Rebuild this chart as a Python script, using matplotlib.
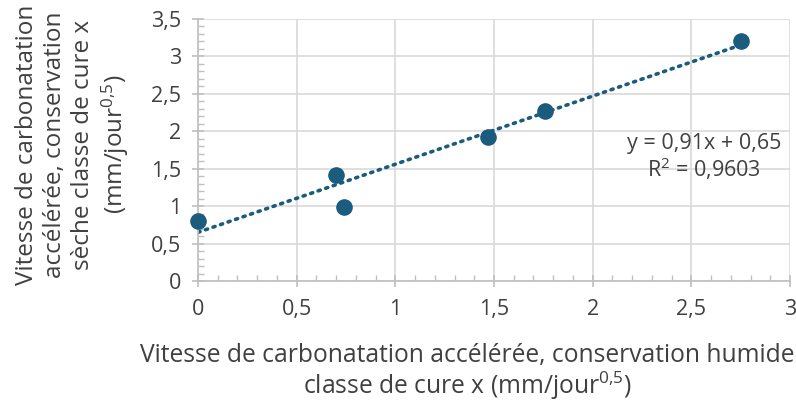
import numpy as np
import matplotlib.pyplot as plt
from matplotlib.ticker import MultipleLocator, FuncFormatter

plt.rcParams['font.family'] = ['Open Sans', 'DejaVu Sans']
plt.rcParams['mathtext.fontset'] = 'custom'
plt.rcParams['mathtext.rm'] = 'Open Sans'
plt.rcParams['mathtext.it'] = 'Open Sans'

# données
humide = [0.0, 0.70, 0.74, 1.47, 1.76, 2.75]
seche = [0.80, 1.41, 0.99, 1.92, 2.27, 3.21]

# droite de tendance (équation affichée)
pente = 0.91
ordonnee = 0.65

couleur = '#1b5b7e'
gris = '#404040'

fig = plt.figure(figsize=(7.96, 4.03), dpi=100)
ax = fig.add_axes([198 / 796, 1 - 281 / 403, 592 / 796, 262 / 403])

xt = np.linspace(min(humide), max(humide), 50)
ax.plot(xt, pente * xt + ordonnee, linestyle=(0, (0.6, 1.6)), color=couleur,
        linewidth=2.6, dash_capstyle='round', zorder=2)
ax.scatter(humide, seche, s=120, color=couleur, zorder=3, clip_on=False)

ax.set_xlim(0, 3)
ax.set_ylim(0, 3.5)
ax.xaxis.set_major_locator(MultipleLocator(0.5))
ax.yaxis.set_major_locator(MultipleLocator(0.5))
ax.xaxis.set_minor_locator(MultipleLocator(0.1))
ax.yaxis.set_minor_locator(MultipleLocator(0.1))

virgule = FuncFormatter(lambda v, p: ('%g' % v).replace('.', ','))
ax.xaxis.set_major_formatter(virgule)
ax.yaxis.set_major_formatter(virgule)

ax.grid(True, which='major', color='#d9d9d9', linewidth=1.2)
ax.set_axisbelow(True)
for s in ['top', 'right']:
    ax.spines[s].set_visible(False)
for s in ['left', 'bottom']:
    ax.spines[s].set_color('#bfbfbf')
    ax.spines[s].set_linewidth(1.2)

ax.tick_params(which='major', direction='inout', length=8, color='#bfbfbf',
               width=1.2, labelsize=15.5, labelcolor=gris, pad=8)
ax.tick_params(which='minor', direction='in', length=4, color='#bfbfbf', width=1)
ax.tick_params(axis='x', pad=9)

ax.set_xlabel('Vitesse de carbonatation accélérée, conservation humide\n'
              'classe de cure x (mm/jour$^{0{,}5}$)', fontsize=17.7, color=gris,
              linespacing=1.08)
ax.xaxis.set_label_coords(0.455, -0.235)
ax.set_ylabel('Vitesse de carbonatation\naccélérée, conservation\n'
              'sèche classe de cure x\n(mm/jour$^{0{,}5}$)', fontsize=17.5, color=gris,
              linespacing=1.22)
ax.yaxis.set_label_coords(-0.113, 0.52)

ax.text(2.564, 1.65, 'y = 0,91x + 0,65\nR$^2$ = 0,9603', fontsize=15.5, color=gris,
        ha='center', va='center', linespacing=1.1)

fig.savefig('out.png', dpi=100)
